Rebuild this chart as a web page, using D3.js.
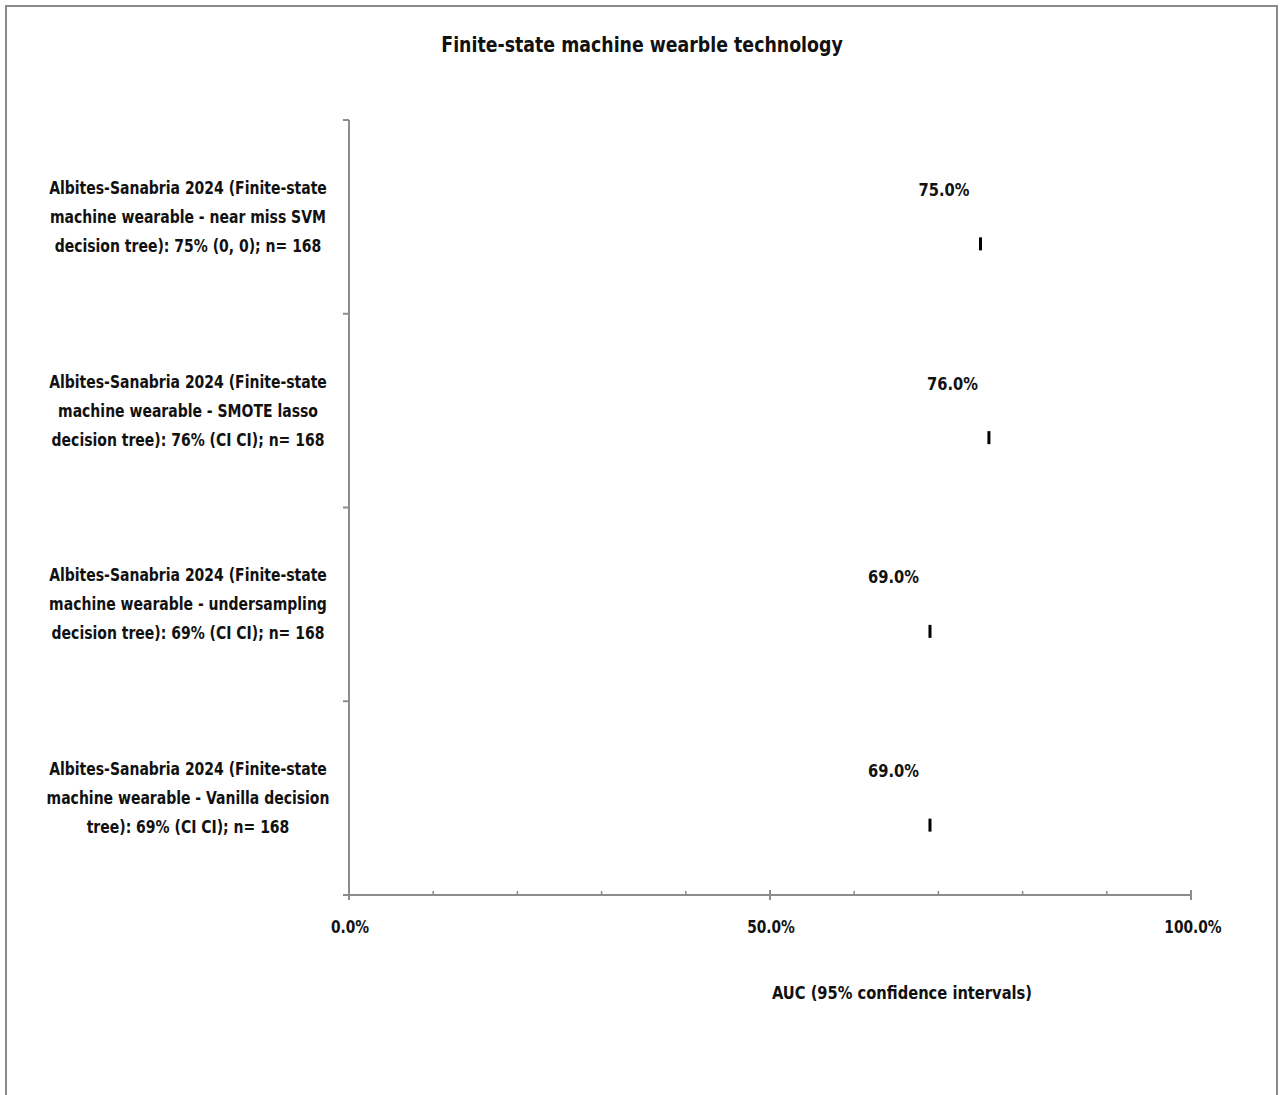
<!DOCTYPE html>
<html>
<head>
<meta charset="utf-8">
<script src="https://cdn.jsdelivr.net/npm/d3@7"></script>
<style>
  html, body { margin: 0; padding: 0; background: #fff; }
  svg { display: block; }
  text { font-family: "Liberation Sans Narrow", "Arial Narrow", "DejaVu Sans Condensed", sans-serif; font-weight: bold; fill: #111; }
</style>
</head>
<body>
<script>
const chartTitle = "Finite-state machine wearble technology";
const xAxisTitle = "AUC (95% confidence intervals)";
const categories = [
  ["Albites-Sanabria 2024 (Finite-state", "machine wearable - near miss SVM", "decision tree): 75% (0, 0); n= 168"],
  ["Albites-Sanabria 2024 (Finite-state", "machine wearable - SMOTE lasso", "decision tree): 76% (CI CI); n= 168"],
  ["Albites-Sanabria 2024 (Finite-state", "machine wearable - undersampling", "decision tree): 69% (CI CI); n= 168"],
  ["Albites-Sanabria 2024 (Finite-state", "machine wearable - Vanilla decision", "tree): 69% (CI CI); n= 168"]
];
const aucValues = [75, 76, 69, 69];
const ciLower = [75, 76, 69, 69];
const ciUpper = [75, 76, 69, 69];
const xMajorTicks = [0, 50, 100];
const xMinorTicks = [10, 20, 30, 40, 60, 70, 80, 90];

(function () {
const W = 1283, H = 1095;
const svg = d3.select("body").append("svg").attr("width", W).attr("height", H);

// text helper with horizontal compression (narrow font substitute)
function label(parent, xPos, yPos, str, size, sx, anchor) {
  return parent.append("text")
    .attr("transform", `translate(${xPos},${yPos}) scale(${sx},1)`)
    .attr("text-anchor", anchor || "middle")
    .style("font-size", size + "px").text(str);
}

// outer border
svg.append("rect").attr("x", 6).attr("y", 6).attr("width", 1271).attr("height", H + 20)
  .attr("fill", "none").attr("stroke", "#8a8a8a").attr("stroke-width", 2);

const pLeft = 349, pRight = 1191, pTop = 120, pBottom = 895;
const x = d3.scaleLinear().domain([0, 100]).range([pLeft, pRight]);
const y = d3.scaleBand().domain(d3.range(categories.length)).range([pTop, pBottom]);

// title
label(svg, 642, 52, chartTitle, 21, 0.92);

const axisColor = "#8c8c8c";
// y axis line
svg.append("line").attr("x1", pLeft).attr("x2", pLeft).attr("y1", pTop).attr("y2", pBottom + 5)
  .attr("stroke", axisColor).attr("stroke-width", 2);
// y ticks at band boundaries
const yBounds = d3.range(categories.length).map(i => y(i));
svg.selectAll("line.ytick").data(yBounds).enter().append("line")
  .attr("x1", pLeft - 6).attr("x2", pLeft).attr("y1", d => d).attr("y2", d => d)
  .attr("stroke", axisColor).attr("stroke-width", 2);

// x axis line
svg.append("line").attr("x1", pLeft - 6).attr("x2", pRight).attr("y1", pBottom).attr("y2", pBottom)
  .attr("stroke", axisColor).attr("stroke-width", 2);
svg.selectAll("line.xmaj").data(xMajorTicks.slice(1)).enter().append("line")
  .attr("x1", d => x(d)).attr("x2", d => x(d)).attr("y1", pBottom - 5).attr("y2", pBottom + 5)
  .attr("stroke", axisColor).attr("stroke-width", 2);
svg.selectAll("line.xmin").data(xMinorTicks).enter().append("line")
  .attr("x1", d => x(d)).attr("x2", d => x(d)).attr("y1", pBottom - 4).attr("y2", pBottom)
  .attr("stroke", axisColor).attr("stroke-width", 1.5);

// x tick labels
xMajorTicks.forEach(d => {
  label(svg, x(d) + (d === 100 ? 2 : 1), 933, d3.format(".1f")(d) + "%", 17, 0.9);
});

// x axis title
label(svg, 902, 999, xAxisTitle, 17, 0.96);

// category labels
categories.forEach((lines, i) => {
  const cy = y(i) + y.bandwidth() / 2;
  lines.forEach((ln, j) => {
    label(svg, 188, cy + (j - 1) * 29 + 6, ln, 17.5, 0.89);
  });
});

// markers (CI whiskers collapse to a point) and data labels
const g = svg.append("g");
aucValues.forEach((v, i) => {
  const cy = y(i) + y.bandwidth() / 2 + 27;
  g.append("line").attr("x1", x(ciLower[i])).attr("x2", x(ciUpper[i]))
    .attr("y1", cy).attr("y2", cy).attr("stroke", "#000").attr("stroke-width", 2);
  g.append("rect").attr("x", x(v) - 1.5).attr("y", cy - 6.5).attr("width", 3).attr("height", 13)
    .attr("fill", "#000");
  label(g, x(v) - 11, y(i) + y.bandwidth() / 2 - 21, d3.format(".1f")(v) + "%", 17, 0.96, "end");
});
})();
</script>
</body>
</html>
